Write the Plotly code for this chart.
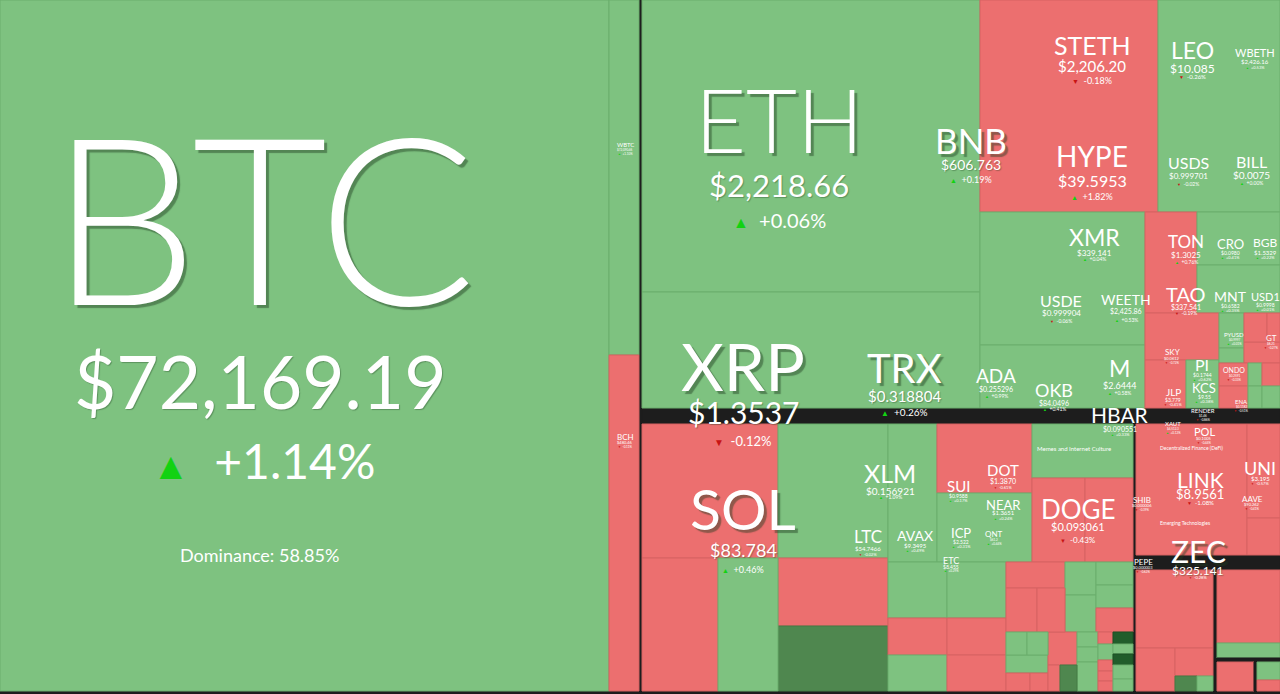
import plotly.graph_objects as go

# ---------------- treemap cells (weights read from tile areas) ----------------
node_ids = [
    "All", "Main", "Body", "BotGap",
    "BTC", "BTCcol", "WBTC", "BCH", "gapA",
    "Right", "RTop", "ETHcol", "ETH", "XRP",
    "RTR", "RowA", "STETH", "LEO", "RowB", "XMRcol", "XMR", "ADA",
    "STR", "SR1", "TON", "SR1b", "CRO", "MNT",
    "SR2", "SR2a", "SKY", "SR2a2", "JLP", "PI",
    "SR2b", "SR2b1", "SR2b1a", "PYUSD", "BNSX", "SR2b1b", "SR2b1b1", "HBP", "GT", "LEAF",
    "SR2b2", "SR2b2a", "ONDO", "ENA", "SR2b2b", "t01", "t02", "SR2b2c", "PUMP", "t03",
    "gapB", "RBot",
    "BLa", "SOL", "BLa2", "t04", "t05",
    "BLb", "XLM", "t06", "t07",
    "BLc", "BLc1", "AVAX", "DOTc", "DOT", "NEAR", "MEMEc", "MEME", "DOGErow", "DOGE", "t08",
    "BLc2", "colA", "t09", "t10", "t11", "colB", "ETC", "t12", "t13",
    "colC", "C1", "C1a", "t14", "C1a2", "t15", "t16", "C1b", "t17", "t18",
    "C1c", "t19", "t20", "t21",
    "C2", "D1", "D1a", "t22", "t23", "t24", "D1c", "t25", "t26",
    "D2", "t27", "D2b", "t28", "t29",
    "D3", "t30", "t31", "t32",
    "D4", "t33", "t34", "t35", "t36", "t37",
    "D5", "t38", "t39", "t40", "t41", "t42",
    "gapC", "BR", "BR1", "LINK", "BR1b", "UNI", "AAVE", "gapD",
    "BR2", "BR2a", "ZEC", "BR2a2", "t43", "BR2a2b", "t44", "BR2a2b2", "t45", "t46",
    "gapE", "BR2c", "t47", "t48", "gapF", "BR2c4", "t49", "gapG", "BR2c4c", "t50", "t51",
]
node_parents = [
    "", "All", "Main", "Main",
    "Body", "Body", "BTCcol", "BTCcol", "Body",
    "Body", "Right", "RTop", "ETHcol", "ETHcol",
    "RTop", "RTR", "RowA", "RowA", "RTR", "RowB", "XMRcol", "XMRcol",
    "RowB", "STR", "SR1", "SR1", "SR1b", "SR1b",
    "STR", "SR2", "SR2a", "SR2a", "SR2a2", "SR2a2",
    "SR2", "SR2b", "SR2b1", "SR2b1a", "SR2b1a", "SR2b1", "SR2b1b", "SR2b1b1", "SR2b1b1", "SR2b1b",
    "SR2b", "SR2b2", "SR2b2a", "SR2b2a", "SR2b2", "SR2b2b", "SR2b2b", "SR2b2", "SR2b2c", "SR2b2c",
    "Right", "Right",
    "RBot", "BLa", "BLa", "BLa2", "BLa2",
    "RBot", "BLb", "BLb", "BLb",
    "RBot", "BLc", "BLc1", "BLc1", "DOTc", "DOTc", "BLc1", "MEMEc", "MEMEc", "DOGErow", "DOGErow",
    "BLc", "BLc2", "colA", "colA", "colA", "BLc2", "colB", "colB", "colB",
    "BLc2", "colC", "C1", "C1a", "C1a", "C1a2", "C1a2", "C1", "C1b", "C1b",
    "C1", "C1c", "C1c", "C1c",
    "colC", "C2", "D1", "D1a", "D1a", "D1", "D1", "D1c", "D1c",
    "C2", "D2", "D2", "D2b", "D2b",
    "C2", "D3", "D3", "D3",
    "C2", "D4", "D4", "D4", "D4", "D4",
    "C2", "D5", "D5", "D5", "D5", "D5",
    "RBot", "RBot", "BR", "BR1", "BR1", "BR1b", "BR1b", "BR",
    "BR", "BR2", "BR2a", "BR2a", "BR2a2", "BR2a2", "BR2a2b", "BR2a2b", "BR2a2b2", "BR2a2b2",
    "BR2", "BR2", "BR2c", "BR2c", "BR2c", "BR2c", "BR2c4", "BR2c4", "BR2c4", "BR2c4c", "BR2c4c",
]
node_caps = [
    0, 0, 0, 3840,
    420819, 0, 10650, 10080, 2073,
    0, 0, 0, 98696, 39208,
    0, 0, 37736, 25864, 0, 0, 21945, 10395,
    0, 0, 5252, 0, 4399, 3984,
    0, 0, 3478, 0, 1968, 1584,
    0, 0, 0, 875, 375, 0, 0, 667, 377, 756,
    0, 0, 667, 638, 0, 322, 308, 0, 414, 396,
    10208, 0,
    0, 18224, 0, 10108, 7980,
    0, 14740, 7480, 7150,
    0, 0, 6762, 0, 6555, 6555, 0, 5454, 0, 4452, 4032,
    0, 0, 3304, 2183, 2124, 0, 3304, 2183, 2124,
    0, 0, 0, 1534, 0, 1364, 1232, 0, 1023, 1147,
    0, 851, 851, 888,
    0, 0, 0, 483, 483, 756, 0, 432, 324,
    0, 957, 0, 312, 442,
    0, 315, 315, 609,
    0, 180, 240, 165, 150, 150,
    0, 240, 200, 220, 280, 240,
    801, 0, 0, 14541, 0, 3102, 1221, 2160,
    0, 0, 6006, 0, 1677, 0, 1064, 0, 330, 240,
    484, 0, 4599, 945, 252, 0, 1073, 87, 0, 414, 253,
]
node_tones = [
    "k", "k", "k", "k",
    "g", "k", "g", "r", "k",
    "k", "k", "k", "g", "g",
    "k", "k", "r", "g", "k", "k", "g", "g",
    "k", "k", "r", "k", "g", "g",
    "k", "k", "r", "k", "r", "g",
    "k", "k", "k", "g", "g", "k", "k", "r", "r", "r",
    "k", "k", "r", "r", "k", "g", "g", "k", "r", "g",
    "k", "k",
    "k", "r", "k", "r", "g",
    "k", "g", "r", "dg",
    "k", "k", "g", "k", "r", "g", "k", "g", "k", "r", "r",
    "k", "k", "g", "r", "g", "k", "g", "r", "r",
    "k", "k", "k", "r", "k", "r", "r", "k", "g", "g",
    "k", "g", "g", "r",
    "k", "k", "k", "g", "g", "g", "k", "r", "r",
    "k", "r", "k", "r", "dg",
    "k", "g", "g", "g",
    "k", "r", "g", "r", "r", "r",
    "k", "ddg", "g", "ddg", "g", "g",
    "k", "k", "k", "r", "k", "r", "r", "k",
    "k", "k", "r", "k", "r", "k", "r", "k", "dg", "g",
    "k", "k", "r", "g", "k", "k", "r", "k", "k", "g", "r",
]

# ---------------- labels (coin, price, 24h change) ----------------
label_coins = ["BTC", "ETH", "XRP", "SOL", "BNB", "STETH", "HYPE", "TRX", "LEO", "WBETH",
               "USDS", "BILL", "XMR", "USDE", "WEETH", "ADA", "OKB", "M", "TON", "CRO",
               "BGB", "TAO", "MNT", "USD1", "SKY", "PI", "KCS", "JLP", "HBAR", "XLM",
               "LTC", "AVAX", "DOT", "SUI", "NEAR", "ICP", "DOGE", "LINK", "UNI", "AAVE",
               "SHIB", "ZEC", "POL", "PEPE", "BCH", "WBTC", "ETC", "XAUT", "RENDER", "ONDO",
               "ENA", "PYUSD", "GT", "QNT"]
label_prices = ["$72,169.19", "$2,218.66", "$1.3537", "$83.784", "$606.763", "$2,206.20", "$39.5953",
                "$0.318804", "$10.085", "$2,426.16", "$0.999701", "$0.0075", "$339.141", "$0.999904",
                "$2,425.86", "$0.255296", "$84.0496", "$2.6444", "$1.3025", "$0.0980", "$1.5329",
                "$337.541", "$0.6582", "$0.9998", "$0.0612", "$0.1744", "$9.55", "$3.779",
                "$0.090551", "$0.156921", "$54.7466", "$9.3495", "$1.3870", "$0.9588", "$1.3651",
                "$2.522", "$0.093061", "$8.9561", "$3.195", "$90.262", "$0.000006", "$325.141",
                "$0.1005", "$0.000003", "$480.46", "$72,090.46", "$8.455", "$4,512.3", "$1.46",
                "$0.2591", "$0.1182", "$0.9997", "$8.21", "$61.2"]
label_changes = [1.14, 0.06, -0.12, 0.46, 0.19, -0.18, 1.82, 0.26, -0.26, 0.53,
                 -0.02, 0.00, 0.04, -0.06, 0.53, 0.99, 0.41, 0.58, 0.76, 0.41,
                 0.22, -0.19, 0.35, 0.01, -0.72, 0.62, 0.38, -0.41, 0.33, 1.09,
                 -0.02, 0.49, -0.61, 0.17, 0.24, 0.31, -0.43, -1.08, -0.57, -0.41,
                 -0.39, -0.28, -0.44, -0.62, -0.11, 1.10, 0.29, 0.12, -0.86, -0.33,
                 -0.51, 0.01, -0.27, 0.44]
group_titles = ["Dominance: 58.85%", "Memes and Internet Culture",
                "Decentralized Finance (DeFi)", "Emerging Technologies"]

# ---------------- label placement (px): x, y_name, size_name, y_price, size_price, y_chg, size_chg
PLACE = {
    "BTC": (263, 222, 234, 383, 73, 462, 48),
    "ETH": (779, 122, 88, 186, 31, 221, 20),
    "XRP": (743, 367, 66, 413, 30, 441, 13),
    "SOL": (743, 510, 57, 551, 18, 570, 9),
    "BNB": (971, 141, 35, 165, 14, 180, 9),
    "STETH": (1092, 46, 25, 66, 15, 81, 9),
    "HYPE": (1092, 157, 28, 181, 16, 197, 9),
    "TRX": (904, 369, 40, 396, 15, 412, 10),
    "LEO": (1192, 51, 23, 69, 12, 77, 6),
    "WBETH": (1255, 53, 11, 62, 6, 68, 4),
    "USDS": (1188, 163, 16, 176, 8, 184, 5),
    "BILL": (1251, 162, 16, 175, 10, 183, 5),
    "XMR": (1094, 238, 23, 253, 8, 259, 5),
    "USDE": (1061, 301, 16, 313, 8, 321, 5),
    "WEETH": (1126, 300, 14, 312, 7, 320, 5),
    "ADA": (996, 376, 19, 389, 7, 396, 5),
    "OKB": (1054, 391, 18, 403, 7, 409, 5),
    "M": (1119, 369, 23, 386, 9, 393, 5),
    "TON": (1186, 242, 17, 255, 8, 262, 5),
    "CRO": (1230, 244, 13, 253, 5, 258, 4),
    "BGB": (1265, 243, 12, 253, 6, 258, 4),
    "TAO": (1186, 295, 20, 307, 7, 313, 5),
    "MNT": (1230, 297, 14, 306, 5, 311, 4),
    "USD1": (1265, 297, 11, 305, 5, 310, 4),
    "SKY": (1172, 352, 8, 359, 4, 363, 3),
    "PI": (1202, 365, 16, 375, 5, 380, 4),
    "KCS": (1204, 388, 13, 397, 5, 402, 4),
    "JLP": (1173, 392, 10, 400, 5, 405, 4),
    "HBAR": (1120, 415, 21, 429, 7, 435, 4),
    "XLM": (890, 474, 25, 491, 10, 497, 5),
    "LTC": (868, 537, 17, 549, 6, 555, 4),
    "AVAX": (915, 536, 14, 546, 6, 551, 4),
    "DOT": (1003, 470, 15, 481, 7, 488, 4),
    "SUI": (958, 486, 15, 496, 5, 501, 4),
    "NEAR": (1003, 505, 13, 513, 6, 519, 4),
    "ICP": (961, 533, 13, 542, 5, 547, 4),
    "DOGE": (1078, 510, 26, 527, 11, 540, 8),
    "LINK": (1200, 480, 21, 494, 13, 503, 6),
    "UNI": (1260, 469, 18, 479, 6, 484, 4),
    "AAVE": (1252, 499, 8, 505, 4, 509, 3),
    "SHIB": (1142, 500, 8, 506, 4, 510, 3),
    "ZEC": (1198, 552, 30, 571, 12, 578, 4),
    "POL": (1204, 432, 11, 439, 4, 443, 3),
    "PEPE": (1143, 562, 8, 568, 4, 572, 3),
    "BCH": (625, 437, 8, 443, 4, 447, 3),
    "WBTC": (625, 145, 6, 150, 3, 154, 3),
    "ETC": (951, 561, 9, 567, 5, 571, 3),
    "XAUT": (1173, 424, 6, 429, 3, 433, 3),
    "RENDER": (1203, 411, 6, 416, 3, 420, 3),
    "ONDO": (1234, 370, 7, 376, 3, 380, 3),
    "ENA": (1241, 402, 6, 407, 3, 411, 3),
    "PYUSD": (1234, 335, 6, 340, 3, 344, 3),
    "GT": (1271, 338, 8, 344, 3, 348, 3),
    "QNT": (994, 534, 8, 540, 3, 544, 3),
}
LIGHT = {"BTC", "ETH"}
TITLE_PLACE = {
    "Dominance: 58.85%": (259, 556, 18),
    "Memes and Internet Culture": (1074, 449, 6),
    "Decentralized Finance (DeFi)": (1192, 448, 5),
    "Emerging Technologies": (1185, 523, 5),
}

W, H = 1280, 694
TONE = {"g": "#7ec280", "r": "#ec6f6f", "dg": "#4f874f", "ddg": "#215d2b", "k": "#1d1d1d"}
EDGE = {"g": "#6aae6c", "r": "#d66262", "dg": "#457a45", "ddg": "#1c5025", "k": "#1d1d1d"}
colors = [TONE[t] for t in node_tones]
parent_set = set(node_parents)
line_w = [0 if i in parent_set else 1 for i in node_ids]
line_c = [EDGE[t] for t in node_tones]

fig = go.Figure(go.Treemap(
    ids=node_ids, labels=node_ids, parents=node_parents, values=node_caps,
    branchvalues="remainder", sort=False,
    tiling=dict(packing="slice-dice", pad=0),
    marker=dict(colors=colors, line=dict(width=line_w, color=line_c),
                pad=dict(t=0, l=0, r=0, b=0), depthfade=False),
    textinfo="none", hoverinfo="skip",
    pathbar=dict(visible=False),
    domain=dict(x=[0, 1], y=[0, 1]),
))

FONT = "Lato, 'Open Sans', sans-serif"
anns = []


def add(text, px, py, size, shadow="none", color="white", weight=400):
    anns.append(dict(
        text=text, x=px / W, y=1 - (py - 0.03 * size) / H, xref="paper", yref="paper",
        xanchor="center", yanchor="middle", showarrow=False,
        font=dict(family=FONT, size=size, color=color, shadow=shadow, weight=weight),
    ))


for coin, price, chg in zip(label_coins, label_prices, label_changes):
    x, yn, sn, yp, sp, yc, sc = PLACE[coin]
    big = sn >= 30
    add(coin, x, yn, sn, shadow="3px 3px 1px rgba(30,60,30,0.45)" if big else "none",
        weight=300 if coin in LIGHT else 400)
    add(price, x - (3 if coin == "BTC" else 0), yp, sp,
        shadow="1px 1px 1px rgba(30,60,30,0.35)" if big else "none")
    tri = "▲" if chg >= 0 else "▼"
    tcol = "#12d212" if chg >= 0 else "#c81414"
    txt = f"<span style='color:{tcol};font-size:{max(3, round(sc * 0.8))}px'>{tri}</span>  {chg:+.2f}%"
    add(txt, x, yc, sc)

for t in group_titles:
    x, y, s = TITLE_PLACE[t]
    add(t, x, y, s)

fig.update_layout(
    width=W, height=H, margin=dict(l=0, r=0, t=0, b=0),
    paper_bgcolor="#1d1d1d", annotations=anns, showlegend=False,
)

fig.write_html("out.html", config={"displayModeBar": False, "staticPlot": True},
               post_script="document.body.style.margin='0px';document.body.style.overflow='hidden';")
